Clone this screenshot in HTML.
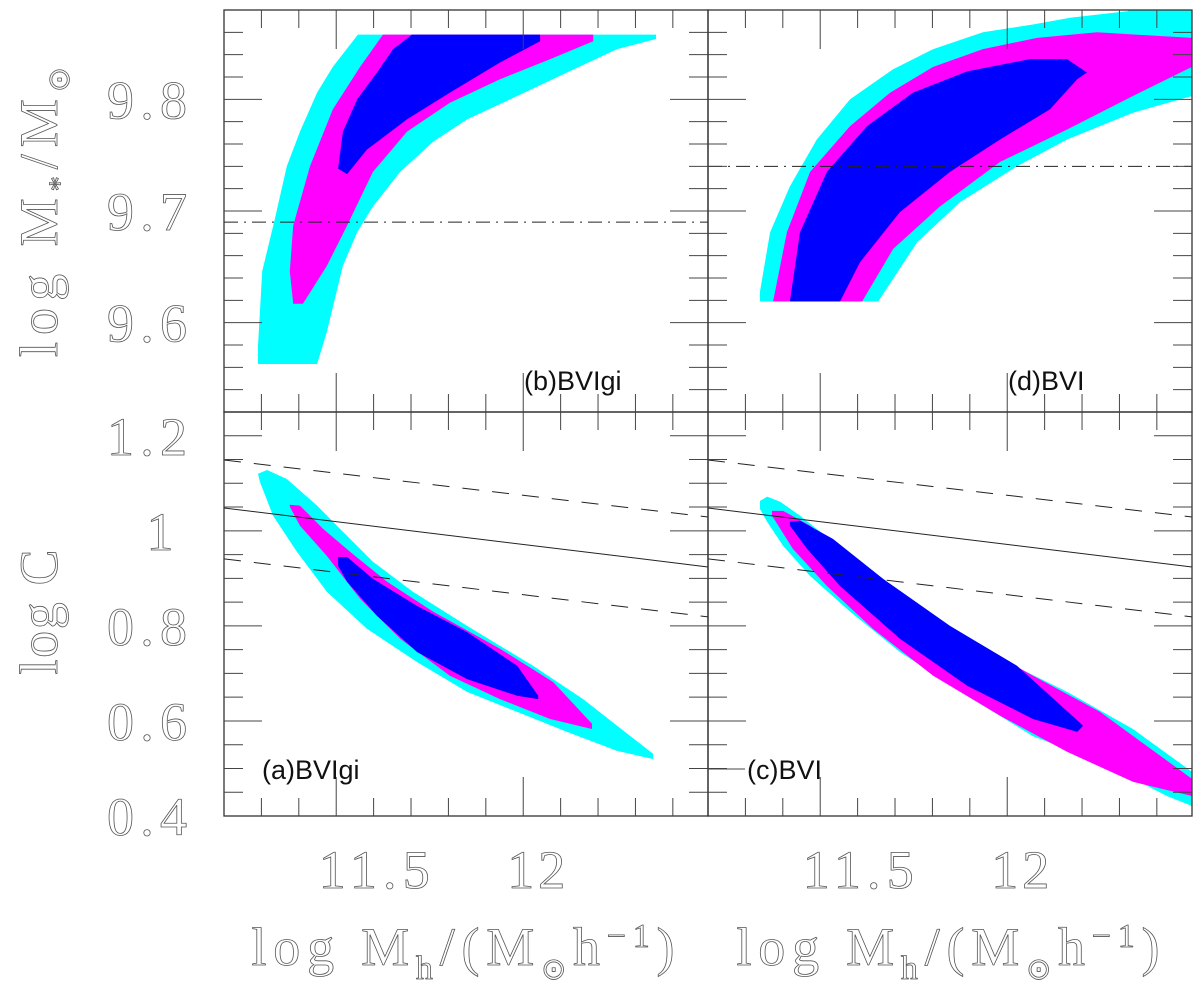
<!DOCTYPE html>
<html><head><meta charset="utf-8"><style>
html,body{margin:0;padding:0;background:#fff;}
svg{display:block;}
.tl{font-family:"Liberation Serif",serif;fill:#fff;stroke:#555;stroke-width:0.8;}
.pl{font-family:"Liberation Sans",sans-serif;font-size:27px;fill:#111;}
</style></head><body>
<svg id="chart" width="1200" height="984" viewBox="0 0 1200 984" xmlns="http://www.w3.org/2000/svg"></svg>
<script>
// ---- data ----
const xTickVals = [11.5, 12];
const xTickLabels = ['11.5', '12'];
const topTickVals = [9.8, 9.7, 9.6];
const topTickLabels = ['9.8', '9.7', '9.6'];
const botTickVals = [1.2, 1.0, 0.8, 0.6, 0.4];
const botTickLabels = ['1.2', '1', '0.8', '0.6', '0.4'];

const bCyanX=[11.558,12.355,12.355,12.251,12.117,11.984,11.850,11.759,11.671,11.598,11.556,11.518,11.475,11.449,11.291,11.291,11.302,11.336,11.368,11.403,11.449,11.491];
const bCyanY=[9.858,9.858,9.854,9.845,9.824,9.803,9.782,9.762,9.735,9.704,9.681,9.651,9.592,9.563,9.563,9.579,9.646,9.693,9.740,9.771,9.806,9.829];
const bMagX=[11.625,12.187,12.187,12.072,11.938,11.804,11.689,11.598,11.529,11.475,11.411,11.385,11.376,11.385,11.430,11.491,11.564];
const bMagY=[9.858,9.858,9.852,9.836,9.818,9.797,9.771,9.735,9.687,9.651,9.617,9.617,9.646,9.687,9.740,9.791,9.829];
const bBlueX=[11.703,12.045,12.045,11.938,11.804,11.689,11.582,11.529,11.505,11.518,11.556,11.609,11.652];
const bBlueY=[9.858,9.858,9.852,9.833,9.806,9.782,9.755,9.733,9.738,9.771,9.800,9.824,9.845];

const dCyanX=[12.494,12.323,12.323,12.168,12.069,11.935,11.802,11.695,11.580,11.491,11.419,11.366,11.339,11.339,11.655,11.759,11.874,12.026,12.160,12.336,12.494];
const dCyanY=[9.880,9.880,9.879,9.873,9.867,9.860,9.845,9.827,9.800,9.764,9.722,9.681,9.628,9.619,9.619,9.672,9.708,9.740,9.764,9.788,9.803];
const dMagX=[12.494,12.240,12.080,11.935,11.802,11.687,11.580,11.473,11.411,11.374,11.612,11.695,11.820,11.981,12.160,12.336,12.494];
const dMagY=[9.855,9.860,9.855,9.845,9.829,9.806,9.776,9.735,9.681,9.619,9.619,9.666,9.704,9.744,9.773,9.803,9.829];
const dBlueX=[11.419,11.446,11.518,11.625,11.748,11.893,12.061,12.160,12.213,12.187,12.114,11.981,11.847,11.713,11.606,11.553];
const dBlueY=[9.619,9.681,9.735,9.776,9.806,9.825,9.836,9.836,9.824,9.818,9.791,9.764,9.735,9.699,9.654,9.619];

const aCyanX=[11.291,11.315,11.368,11.449,11.518,11.598,11.705,11.850,12.026,12.160,12.251,12.347,12.347,12.251,12.117,11.984,11.850,11.716,11.582,11.475,11.395,11.331,11.296];
const aCyanY=[1.120,1.128,1.109,1.053,0.998,0.935,0.872,0.800,0.716,0.646,0.590,0.531,0.520,0.537,0.577,0.619,0.661,0.724,0.794,0.872,0.956,1.032,1.103];
const aMagX=[11.376,11.403,11.465,11.537,11.636,11.759,11.938,12.080,12.184,12.184,12.072,11.938,11.804,11.671,11.564,11.475,11.403,11.376];
const aMagY=[1.055,1.053,1.004,0.956,0.893,0.830,0.752,0.682,0.594,0.583,0.604,0.646,0.695,0.773,0.857,0.947,1.011,1.051];
const aBlueX=[11.505,11.529,11.598,11.716,11.850,11.984,12.040,12.040,11.984,11.850,11.716,11.609,11.529,11.505];
const aBlueY=[0.945,0.945,0.899,0.842,0.787,0.716,0.653,0.646,0.653,0.688,0.745,0.821,0.893,0.926];

const cCyanX=[11.339,11.358,11.393,11.446,11.534,11.652,11.802,11.981,12.160,12.336,12.494,12.494,12.427,12.248,12.069,11.893,11.713,11.580,11.473,11.401,11.358,11.339];
const cCyanY=[1.063,1.072,1.061,1.032,0.977,0.905,0.815,0.731,0.661,0.583,0.493,0.421,0.442,0.514,0.568,0.653,0.745,0.830,0.905,0.968,1.019,1.046];
const cMagX=[11.371,11.401,11.473,11.561,11.713,11.893,12.069,12.248,12.494,12.494,12.336,12.160,11.981,11.802,11.641,11.518,11.427,11.371];
const cMagY=[1.042,1.042,1.011,0.956,0.863,0.773,0.695,0.619,0.478,0.442,0.472,0.535,0.611,0.695,0.794,0.884,0.962,1.032];
const cBlueX=[11.419,11.446,11.534,11.668,11.847,12.026,12.203,12.187,12.069,11.893,11.713,11.553,11.465,11.419];
const cBlueY=[1.019,1.021,0.983,0.899,0.800,0.716,0.590,0.577,0.604,0.674,0.773,0.884,0.962,1.011];

const refMstarLeft = [9.690];
const refMstarRight = [9.740];
const relLineX = [11.2, 12.494];
const relMidY = [1.048, 0.924];
const relHiY = [1.149, 1.029];
const relLoY = [0.941, 0.819];

// ---- layout ----
const NS='http://www.w3.org/2000/svg';
const svg=document.getElementById('chart');
const X0=11.2, X1=12.494, Y0t=9.52, Y1t=9.88, Y0b=0.4, Y1b=1.25;
const cols=[{l:224,r:708},{l:708,r:1192}];
const rows=[{t:10,b:412,lo:Y0t,hi:Y1t},{t:412,b:816,lo:Y0b,hi:Y1b}];
function sx(c,v){return cols[c].l+(v-X0)/(X1-X0)*(cols[c].r-cols[c].l);}
function sy(r,v){return rows[r].b-(v-rows[r].lo)/(rows[r].hi-rows[r].lo)*(rows[r].b-rows[r].t);}
function mk(tag,attrs,parent){const e=document.createElementNS(NS,tag);for(const k in attrs)e.setAttribute(k,attrs[k]);(parent||svg).appendChild(e);return e;}

function poly(c,r,xs,ys,fill,name){
  const pts=xs.map((x,i)=>sx(c,x).toFixed(1)+','+sy(r,ys[i]).toFixed(1)).join(' ');
  const p=mk('polygon',{points:pts,fill:fill});
  
  
}

const CY='#00ffff', MG='#ff00ff', BL='#0000ff';
poly(0,0,bCyanX,bCyanY,CY,'contour-b-3sigma');
poly(0,0,bMagX,bMagY,MG,'contour-b-2sigma');
poly(0,0,bBlueX,bBlueY,BL,'contour-b-1sigma');
poly(1,0,dCyanX,dCyanY,CY,'contour-d-3sigma');
poly(1,0,dMagX,dMagY,MG,'contour-d-2sigma');
poly(1,0,dBlueX,dBlueY,BL,'contour-d-1sigma');
poly(0,1,aCyanX,aCyanY,CY,'contour-a-3sigma');
poly(0,1,aMagX,aMagY,MG,'contour-a-2sigma');
poly(0,1,aBlueX,aBlueY,BL,'contour-a-1sigma');
poly(1,1,cCyanX,cCyanY,CY,'contour-c-3sigma');
poly(1,1,cMagX,cMagY,MG,'contour-c-2sigma');
poly(1,1,cBlueX,cBlueY,BL,'contour-c-1sigma');

// reference lines
function line(c,r,x1,y1,x2,y2,dash,name){
  const l=mk('line',{x1:sx(c,x1),y1:sy(r,y1),x2:sx(c,x2),y2:sy(r,y2),stroke:'#222','stroke-width':1});
  if(dash)l.setAttribute('stroke-dasharray',dash);
  
  
}
line(0,0,X0,refMstarLeft[0],X1,refMstarLeft[0],'14,6,2,6','reference-mstar-b');
line(1,0,X0,refMstarRight[0],X1,refMstarRight[0],'14,6,2,6','reference-mstar-d');
[0,1].forEach(c=>{
  line(c,1,relLineX[0],relMidY[0],relLineX[1],relMidY[1],null,'relation-line-mean');
  line(c,1,relLineX[0],relHiY[0],relLineX[1],relHiY[1],'17,13','relation-line-upper');
  line(c,1,relLineX[0],relLoY[0],relLineX[1],relLoY[1],'17,13','relation-line-lower');
});

// frames & ticks
const TC='#444';
function tk(x1,y1,x2,y2){mk('line',{x1:x1,y1:y1,x2:x2,y2:y2,stroke:TC,'stroke-width':1});}
[0,1].forEach(c=>[0,1].forEach(r=>{
  const L=cols[c].l,R=cols[c].r,T=rows[r].t,B=rows[r].b;
  const f=mk('rect',{x:L,y:T,width:R-L,height:B-T,fill:'none',stroke:'#333','stroke-width':1.3});
  
  
  for(let v=11.3;v<X1;v+=0.1){
    const x=sx(c,v); const maj=Math.abs(v-11.5)<0.01||Math.abs(v-12)<0.01;
    const len=maj?39:18;
    tk(x,T,x,T+len); tk(x,B,x,B-len);
  }
  const step=r===0?0.02:0.05;
  const start=r===0?9.52:0.4;
  for(let k=1;;k++){
    const v=start+k*step; if(v>=rows[r].hi-1e-6)break;
    const y=sy(r,v);
    const maj=r===0?(Math.abs(Math.round(v*10)-v*10)<0.01):(Math.abs(v*10-Math.round(v*10))<0.01 && Math.round(v*10)%2===0);
    const len=maj?38:19;
    tk(L,y,L+len,y); tk(R,y,R-len,y);
  }
}));
tk(708,769,745,769);

// tick labels
function txt(s,x,y,size,w,name){
  const t=mk('text',{x:x,y:y,'font-size':size,'text-anchor':'middle',class:'tl',textLength:w,lengthAdjust:'spacing'});
  t.textContent=s;
  
  
  return t;
}
topTickVals.forEach((v,i)=>txt(topTickLabels[i],147,sy(0,v)+19,54,80,'y-tick-label-top'));
botTickVals.forEach((v,i)=>{const s=botTickLabels[i];txt(s,s.length===1?160:147,sy(1,v)+19,54,s.length===1?22:80,'y-tick-label-bottom');});
xTickVals.forEach((v,i)=>{
  [0,1].forEach(c=>{
    const s=xTickLabels[i];
    txt(s,sx(c,v)+(i===0?38:13),888,54,s.length===2?58:111,'x-tick-label');
  });
});

// axis titles
function title(parts,x,y,name,rot,w){
  const t=mk('text',{x:x,y:y,'font-size':54,'text-anchor':'middle',class:'tl',textLength:w,lengthAdjust:'spacing'});
  if(rot)t.setAttribute('transform','rotate(-90 '+x+' '+y+')');
  parts.forEach(p=>{const ts=mk('tspan',p.a||{},t);ts.textContent=p.s;});
  
  
}
title([{s:'log M'},{s:'*',a:{'font-size':30,dy:12}},{s:'/M',a:{dy:-12}},{s:'⊙',a:{'font-size':30,dy:12}}],57,212,'y-axis-title-mstar',true,290);
title([{s:'log C'}],57,612,'y-axis-title-logc',true,125);
[0,1].forEach(c=>{
  const cx=c===0?463:948;
  title([{s:'log M'},{s:'h',a:{'font-size':34,dy:14}},{s:'/(M',a:{dy:-14}},{s:'⊙',a:{'font-size':30,dy:14}},{s:'h',a:{dy:-14}},{s:'−1',a:{'font-size':34,dy:-18}},{s:')',a:{dy:18}}],cx,965,'x-axis-title',false,423);
});

// panel labels
function plab(s,x,y,name){const t=mk('text',{x:x,y:y,class:'pl'});t.textContent=s;
  
  }
plab('(b)BVIgi',524,390,'panel-label-b');
plab('(d)BVI',1008,390,'panel-label-d');
plab('(a)BVIgi',262,779,'panel-label-a');
plab('(c)BVI',747,779,'panel-label-c');
</script>
</body></html>
